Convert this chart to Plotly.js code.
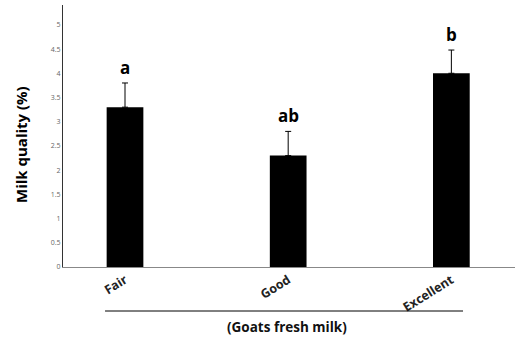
<!DOCTYPE html>
<html>
<head>
<meta charset="utf-8">
<script src="https://cdn.plot.ly/plotly-3.0.1.min.js"></script>
<style>html,body{margin:0;padding:0;background:#fff}#chart{width:517px;height:337px}</style>
</head>
<body>
<div id="chart"></div>
<script>
const categories = ["Fair", "Good", "Excellent"];
const values = [3.3, 2.3, 4.0];
const errors = [0.5, 0.5, 0.48];
const letters = ["a", "ab", "b"];
const yTicks = [0, 0.5, 1, 1.5, 2, 2.5, 3, 3.5, 4, 4.5, 5];
const xTitle = "(Goats fresh milk)";
const yTitle = "Milk quality (%)";

const FONT = "Open Sans, Arial, sans-serif";

const trace = {
  type: "bar",
  x: [0, 1, 2],
  y: values,
  width: 0.225,
  marker: {color: "#000000"},
  error_y: {type: "data", array: errors, arrayminus: errors.map(() => 0), symmetric: false,
            color: "#000000", thickness: 1, width: 3},
  hoverinfo: "none"
};

const annotations = categories.map((c, i) => ({
  x: i, y: values[i] + errors[i], xref: "x", yref: "y",
  text: "<b>" + letters[i] + "</b>", showarrow: false,
  yanchor: "bottom", yshift: 2,
  font: {family: FONT, size: 17, color: "#000"}
}));
annotations.push({
  xref: "paper", yref: "paper", x: 0.496, y: 0, yshift: -60,
  text: "<b>" + xTitle + "</b>", showarrow: false, xanchor: "center", yanchor: "middle",
  font: {family: FONT, size: 13.5, color: "#111"}
});
annotations.push({
  xref: "paper", yref: "paper", x: 0, xshift: -42, y: (267 - 145) / 262,
  text: "<b>" + yTitle + "</b>", showarrow: false, textangle: -90,
  xanchor: "center", yanchor: "middle",
  font: {family: FONT, size: 15, color: "#000"}
});

const plotH = 337 - 5 - 70;
const underlineY = -(311 - 267) / plotH;

const layout = {
  width: 517, height: 337,
  margin: {l: 63, r: 2, t: 5, b: 70},
  paper_bgcolor: "#fff", plot_bgcolor: "#fff",
  showlegend: false,
  xaxis: {
    range: [-0.38, 2.39],
    tickvals: [0, 1, 2], ticktext: categories.map(c => "<b>" + c + "</b>"),
    tickangle: -32, ticks: "", showgrid: false, zeroline: false,
    showline: true, linecolor: "#888", linewidth: 1,
    tickfont: {family: FONT, size: 12.5, color: "#222"}
  },
  yaxis: {
    range: [0, 5.41], tickvals: yTicks, ticktext: yTicks.map(String),
    ticks: "", showgrid: false, zeroline: false,
    showline: true, linecolor: "#333", linewidth: 1,
    tickfont: {family: FONT, size: 7, color: "#666"}
  },
  shapes: [{type: "line", xref: "paper", yref: "paper", x0: 0.093, x1: 0.885,
            y0: underlineY, y1: underlineY, line: {color: "#000", width: 1}}],
  annotations: annotations
};

Plotly.newPlot("chart", [trace], layout, {displayModeBar: false, staticPlot: true});
</script>
</body>
</html>
